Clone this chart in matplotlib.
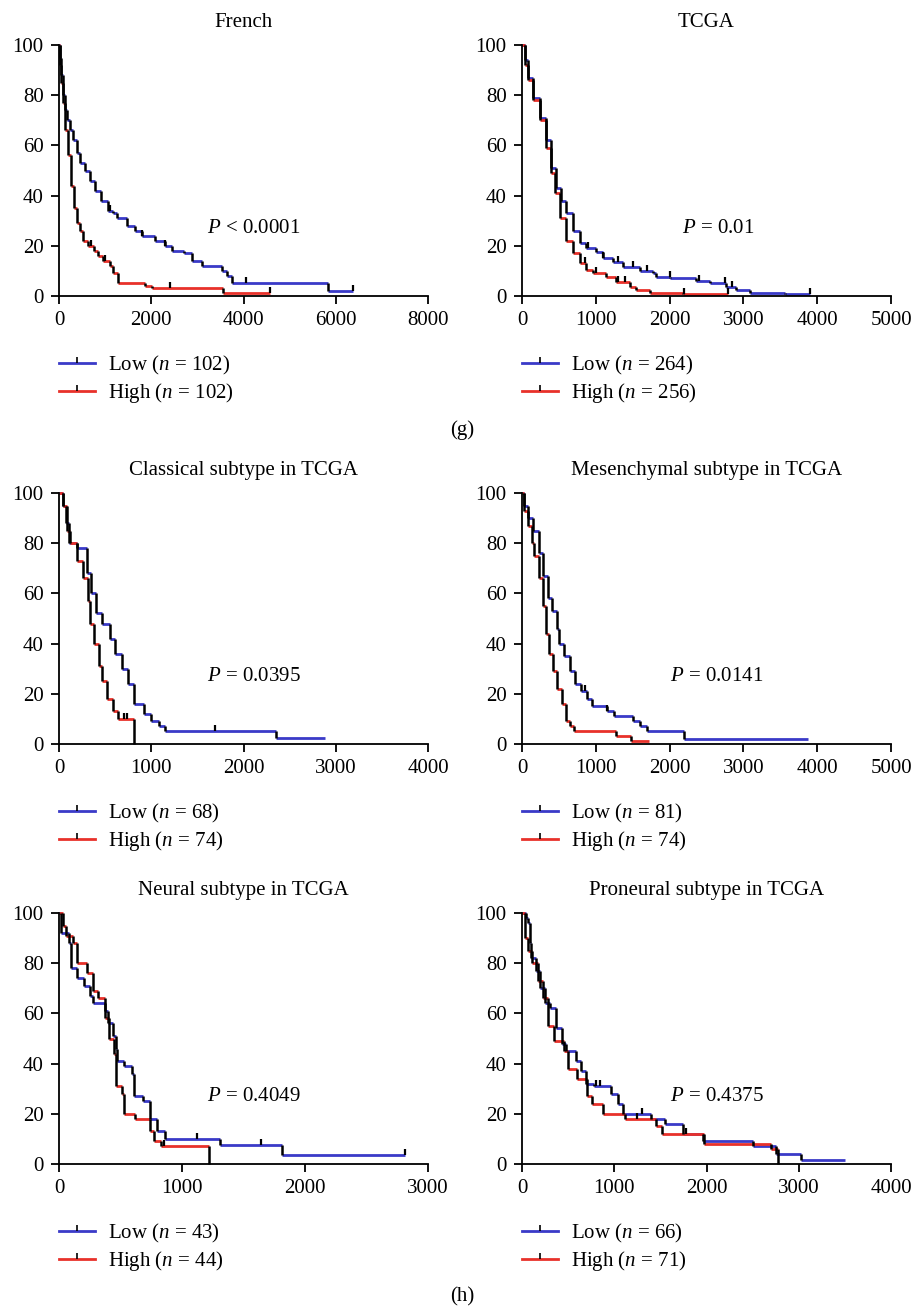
import matplotlib
matplotlib.use("Agg")
import matplotlib.pyplot as plt
import numpy as np
from matplotlib.lines import Line2D
from matplotlib.markers import TICKUP

plt.rcParams["font.family"] = "Liberation Serif"
plt.rcParams["mathtext.fontset"] = "custom"
plt.rcParams["mathtext.it"] = "Liberation Serif:italic"
plt.rcParams["mathtext.rm"] = "Liberation Serif"

BLUE = "#3a3ac8"
RED = "#e8312a"
FS = 15

# ---- survival curves: step times (days) and % surviving ----
french_low_t = [0, 20, 50, 87, 130, 180, 238, 300, 380, 455, 560, 680, 780, 900, 1062, 1160, 1258, 1474, 1640,
                1800, 2081, 2300, 2450, 2700, 2884, 3100, 3530, 3640, 3750, 5840]
french_low_s = [100, 95, 88, 80, 74, 70, 66, 62, 57, 53, 50, 46, 42, 38, 34, 33, 31, 28, 26,
                24, 22, 20, 18, 17, 14, 12, 10, 8, 5, 2]
french_low_end = 6370
french_low_cens = [1100, 1800, 2300, 4050, 6370]
french_high_t = [0, 20, 50, 87, 130, 195, 260, 330, 400, 455, 530, 629, 760, 846, 960, 1106, 1180, 1279,
                 1866, 2010, 3550]
french_high_s = [100, 92, 85, 77, 66, 56, 44, 35, 29, 26, 22, 20, 18, 16, 14, 12, 9, 5, 4, 3, 1]
french_high_end = 4564
french_high_cens = [700, 1000, 2400, 4564]

tcga_low_t = [0, 36, 81, 149, 240, 330, 398, 465, 533, 600, 691, 781, 872, 1007, 1098, 1233, 1369, 1595,
              1775, 1820, 2001, 2362, 2543, 2769, 2904, 3085, 3560]
tcga_low_s = [100, 94, 87, 79, 71, 62, 51, 43, 38, 33, 26, 21, 19, 17.5, 15, 13.5, 11.5, 10,
              9, 7.5, 7, 6, 5, 3.5, 2.2, 1.2, 0.7]
tcga_low_end = 3898
tcga_low_cens = [900, 1100, 1300, 1500, 1700, 2000, 2400, 2750, 2850, 3898]
tcga_high_t = [0, 36, 81, 149, 240, 330, 398, 443, 510, 600, 691, 781, 872, 962, 1143, 1278, 1459, 1549,
               1730, 2182]
tcga_high_s = [100, 92, 86, 78, 70, 59, 49, 41, 31, 22, 17, 13, 10.5, 9, 7.5, 5.6, 3.6, 2.3, 1.3, 0.7]
tcga_high_end = 2791
tcga_high_cens = [850, 1000, 1300, 1400, 2200, 2791]

classical_low_t = [0, 40, 80, 110, 200, 300, 350, 400, 470, 550, 610, 680, 750, 810, 920, 1000, 1080, 1150, 2350]
classical_low_s = [100, 95, 88, 80, 78, 68, 60, 52, 48, 42, 36, 30, 24, 16, 12, 9, 7, 5, 2.5]
classical_low_end = 2880
classical_low_cens = [1690]
classical_high_t = [0, 40, 90, 120, 200, 260, 310, 340, 380, 430, 470, 520, 580, 640, 817]
classical_high_s = [100, 95, 85, 80, 73, 66, 57, 48, 40, 31, 25, 18, 13, 10, 0]
classical_high_end = 817
classical_high_cens = [700, 740]

mes_low_t = [0, 30, 80, 150, 230, 290, 350, 400, 470, 500, 570, 650, 720, 800, 880, 950, 1150, 1250, 1500,
             1600, 1700, 2200]
mes_low_s = [100, 95, 90, 85, 76, 67, 58, 53, 46, 40, 35, 29, 24, 21, 18, 15, 13, 11, 9, 7, 5, 2]
mes_low_end = 3870
mes_low_cens = [850, 1150]
mes_high_t = [0, 30, 80, 130, 160, 230, 280, 330, 360, 420, 480, 540, 600, 650, 700, 1270, 1480]
mes_high_s = [100, 93, 87, 80, 75, 66, 55, 44, 36, 29, 22, 16, 9, 7, 5, 3, 1.3]
mes_high_end = 1720
mes_high_cens = []

neural_low_t = [0, 20, 80, 95, 150, 200, 250, 280, 370, 400, 440, 460, 470, 530, 590, 610, 680, 740, 800,
                860, 1310, 1810]
neural_low_s = [100, 92, 88, 78, 74, 71, 67, 64, 61, 56, 51, 46, 41, 39, 36, 27, 25, 18, 13, 10, 7.5, 3.5]
neural_low_end = 2810
neural_low_cens = [1120, 1640, 2810]
neural_high_t = [0, 30, 60, 110, 150, 230, 280, 320, 370, 410, 450, 460, 510, 530, 620, 740, 770, 830, 1220]
neural_high_s = [100, 95, 91, 88, 80, 76, 69, 66, 58, 50, 44, 31, 28, 20, 18, 13, 9, 7, 0]
neural_high_end = 1220
neural_high_cens = [850]

pro_low_t = [0, 40, 70, 90, 100, 150, 200, 250, 300, 370, 430, 480, 590, 640, 690, 780, 960, 1040, 1100,
             1400, 1550, 1750, 1960, 2500, 2750, 3020]
pro_low_s = [100, 98, 96, 88, 82, 77, 70, 64, 62, 54, 48, 45, 41, 37, 32, 31, 28, 24, 20,
             18, 16, 12, 9, 7, 4, 1.5]
pro_low_end = 3500
pro_low_cens = [800, 850, 1300, 1780]
pro_high_t = [0, 30, 60, 110, 170, 230, 280, 350, 450, 500, 600, 700, 760, 880, 1120, 1450, 1520, 1970,
              2700, 2770]
pro_high_s = [100, 90, 85, 80, 73, 66, 55, 49, 45, 38, 34, 27, 24, 20, 18, 15, 12, 8, 6, 0]
pro_high_end = 2770
pro_high_cens = [1250]

titles = ["French", "TCGA", "Classical subtype in TCGA", "Mesenchymal subtype in TCGA",
          "Neural subtype in TCGA", "Proneural subtype in TCGA"]
p_labels = ["$P$ < 0.0001", "$P$ = 0.01", "$P$ = 0.0395", "$P$ = 0.0141", "$P$ = 0.4049", "$P$ = 0.4375"]
n_low = [102, 264, 68, 81, 43, 66]
n_high = [102, 256, 74, 74, 44, 71]
x_max = [8000, 5000, 4000, 5000, 3000, 4000]
x_step = [2000, 1000, 1000, 1000, 1000, 1000]

curves = [
    ((french_low_t, french_low_s, french_low_end, french_low_cens),
     (french_high_t, french_high_s, french_high_end, french_high_cens)),
    ((tcga_low_t, tcga_low_s, tcga_low_end, tcga_low_cens),
     (tcga_high_t, tcga_high_s, tcga_high_end, tcga_high_cens)),
    ((classical_low_t, classical_low_s, classical_low_end, classical_low_cens),
     (classical_high_t, classical_high_s, classical_high_end, classical_high_cens)),
    ((mes_low_t, mes_low_s, mes_low_end, mes_low_cens),
     (mes_high_t, mes_high_s, mes_high_end, mes_high_cens)),
    ((neural_low_t, neural_low_s, neural_low_end, neural_low_cens),
     (neural_high_t, neural_high_s, neural_high_end, neural_high_cens)),
    ((pro_low_t, pro_low_s, pro_low_end, pro_low_cens),
     (pro_high_t, pro_high_s, pro_high_end, pro_high_cens)),
]


def draw_km(ax, t, s, end, cens, color):
    """Kaplan-Meier step: coloured horizontals, black drops, black censor ticks."""
    t = np.asarray(t, float)
    s = np.asarray(s, float)
    t_next = np.append(t[1:], end)
    ax.hlines(s, t, t_next, colors=color, lw=2.0, clip_on=False, zorder=2)
    ax.vlines(t[1:], s[1:], s[:-1], colors="black", lw=1.8, clip_on=False, zorder=3)
    if len(cens):
        cens = np.asarray(cens, float)
        idx = np.searchsorted(t, cens, side="right") - 1
        ax.plot(cens, s[idx], ls="none", marker=TICKUP, ms=4, mew=1.6, color="black",
                clip_on=False, zorder=4)


W, H = 915, 1307
fig = plt.figure(figsize=(W / 100, H / 100), dpi=100)

# axes boxes in pixels: (left, top, right, bottom)
col_x = [(59, 428), (522, 891)]
row_y = [(45, 296), (493, 744), (913, 1164)]

for i in range(6):
    r, c = divmod(i, 2)
    x0, x1 = col_x[c]
    y0, y1 = row_y[r]
    ax = fig.add_axes([x0 / W, 1 - y1 / H, (x1 - x0) / W, (y1 - y0) / H])
    low, high = curves[i]
    draw_km(ax, *low, BLUE)
    draw_km(ax, *high, RED)

    ax.set_xlim(0, x_max[i])
    ax.set_ylim(0, 100)
    ax.set_xticks(np.arange(0, x_max[i] + 1, x_step[i]))
    ax.set_yticks(np.arange(0, 101, 20))
    for side in ["top", "right"]:
        ax.spines[side].set_visible(False)
    for side in ["left", "bottom"]:
        ax.spines[side].set_linewidth(1.3)
    ax.tick_params(direction="out", length=6, width=1.3, labelsize=FS, pad=5)
    ax.set_title(titles[i], fontsize=FS, pad=13)

    px = 0.434 if i == 1 else 0.40
    ax.text(px, 0.27, p_labels[i], transform=ax.transAxes, fontsize=FS, ha="left", va="center")

    handles = [Line2D([], [], color=BLUE, lw=2.0, marker=TICKUP, ms=4, mew=1.2, mec="black"),
               Line2D([], [], color=RED, lw=2.0, marker=TICKUP, ms=4, mew=1.2, mec="black")]
    labels = [f"Low ($n$ = {n_low[i]})", f"High ($n$ = {n_high[i]})"]
    ax.legend(handles, labels, loc="upper left", bbox_to_anchor=(0, -0.23), frameon=False,
              fontsize=FS, numpoints=1, handlelength=1.75, handletextpad=0.6, labelspacing=0.2,
              borderpad=0, borderaxespad=0)

fig.text(462 / W, 1 - 430 / H, "(g)", fontsize=FS, ha="center", va="center")
fig.text(462 / W, 1 - 1297 / H, "(h)", fontsize=FS, ha="center", va="center")

fig.savefig("out.png", dpi=100)
